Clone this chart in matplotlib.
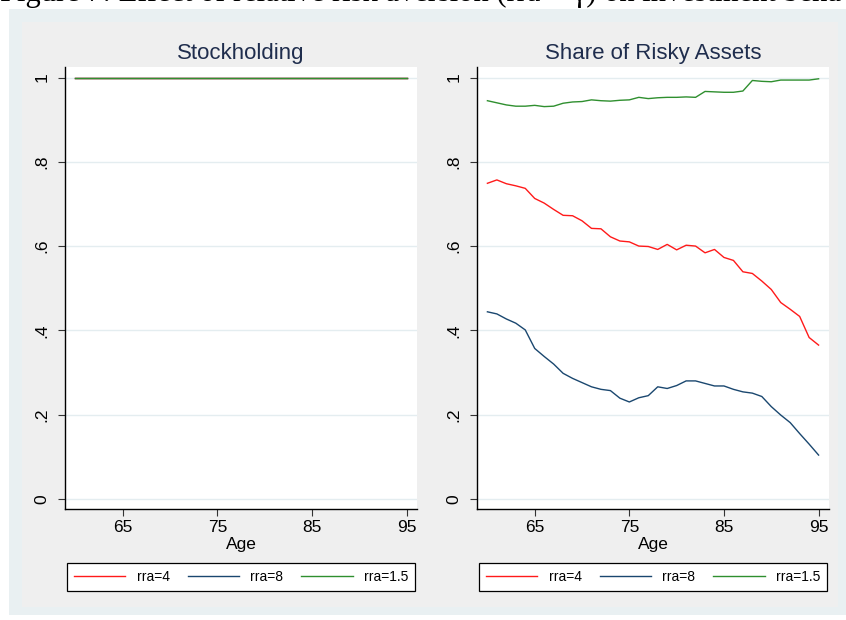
# Effect of relative risk aversion on investment behaviour

import numpy as np
import matplotlib
matplotlib.use('Agg')
import matplotlib.pyplot as plt
from matplotlib.patches import Rectangle

age = list(range(60, 96))

# Stockholding: everyone holds stocks
stock_rra4 = [1.0] * 36
stock_rra8 = [1.0] * 36
stock_rra15 = [1.0] * 36

# Share of risky assets
share_rra4 = [0.749, 0.757, 0.748, 0.743, 0.737, 0.713, 0.702, 0.687, 0.673, 0.672,
              0.660, 0.642, 0.641, 0.622, 0.612, 0.610, 0.600, 0.599, 0.592, 0.604,
              0.591, 0.602, 0.600, 0.584, 0.592, 0.573, 0.566, 0.539, 0.535, 0.517,
              0.497, 0.466, 0.450, 0.433, 0.383, 0.365]
share_rra8 = [0.444, 0.439, 0.427, 0.417, 0.401, 0.357, 0.338, 0.320, 0.298, 0.286,
              0.276, 0.266, 0.260, 0.257, 0.239, 0.230, 0.240, 0.245, 0.266, 0.262,
              0.269, 0.280, 0.280, 0.274, 0.268, 0.268, 0.260, 0.254, 0.251, 0.243,
              0.219, 0.199, 0.181, 0.155, 0.130, 0.104]
share_rra15 = [0.945, 0.940, 0.935, 0.932, 0.932, 0.934, 0.931, 0.932, 0.939, 0.942,
               0.943, 0.947, 0.945, 0.944, 0.946, 0.947, 0.953, 0.950, 0.952, 0.953,
               0.953, 0.954, 0.953, 0.967, 0.966, 0.965, 0.965, 0.968, 0.993, 0.991,
               0.990, 0.994, 0.994, 0.994, 0.994, 0.997]

labels = ['rra=4', 'rra=8', 'rra=1.5']
colors = ['#ff1a1a', '#1a476f', '#2f8f2f']
yticks = [0, 0.2, 0.4, 0.6, 0.8, 1]
ytick_labels = ['0', '.2', '.4', '.6', '.8', '1']
xticks = [65, 75, 85, 95]

plt.rcParams['font.family'] = ['Liberation Sans', 'DejaVu Sans']

W, H = 846, 620
fig = plt.figure(figsize=(W / 100, H / 100), dpi=100)
fig.patch.set_facecolor('white')


def px_rect(x0, y0, x1, y1, color):
  # pixel box (top-left origin) -> figure rectangle
  fig.add_artist(Rectangle((x0 / W, 1 - y1 / H), (x1 - x0) / W, (y1 - y0) / H,
                           transform=fig.transFigure, facecolor=color,
                           edgecolor='none', zorder=-10))


px_rect(9, 9, 846, 615, '#e9f0f2')
px_rect(22, 22, 838, 607, '#efefef')

# caption of the page, only its lower part is inside the picture
fig.text(0, 1 - 1 / H, 'Figure 7: Effect of relative risk aversion (rra = γ) on investment behavior',
         family=['Liberation Serif', 'DejaVu Serif'], fontsize=22, va='baseline', ha='left')

panels = [
    ('Stockholding', [stock_rra4, stock_rra8, stock_rra15], 65),
    ('Share of Risky Assets', [share_rra4, share_rra8, share_rra15], 477),
]

for title, series, left_px in panels:
  ax = fig.add_axes([left_px / W, (H - 509) / H, 352 / W, 442 / H])
  ax.set_facecolor('white')
  # draw navy first on the flat panel so green stays on top
  order = [1, 0, 2]
  for i in order:
    ax.plot(age, series[i], color=colors[i], lw=1.0, label=labels[i], zorder=3)

  ax.set_xlim(58.9, 96.1)
  ax.set_ylim(-0.024, 1.025)
  ax.set_xticks(xticks)
  ax.set_yticks(yticks)
  ax.set_yticklabels(ytick_labels, rotation=90, va='center')
  ax.grid(axis='y', color='#e4edf0', lw=1.0, zorder=0)
  ax.set_axisbelow(True)
  for s in ['top', 'right']:
    ax.spines[s].set_visible(False)
  for s in ['left', 'bottom']:
    ax.spines[s].set_linewidth(1.0)
    ax.spines[s].set_color('black')
  ax.tick_params(axis='both', length=5, width=0.8, color='#333333', labelsize=12.5)
  ax.tick_params(axis='y', pad=6)
  ax.tick_params(axis='x', pad=3)
  ax.set_xlabel('Age', fontsize=12.5, labelpad=1)
  ax.set_title(title, fontsize=16, color='#1f2d4d', pad=6)

  handles, labs = ax.get_legend_handles_labels()
  hmap = dict(zip(labs, handles))
  leg = ax.legend([hmap[l] for l in labels], labels, loc='center',
                  bbox_to_anchor=(0.5, -0.154), ncol=3, fontsize=10,
                  frameon=True, fancybox=False, framealpha=1, edgecolor='black',
                  handlelength=3.7, handletextpad=0.8, columnspacing=1.3,
                  borderpad=0.5, borderaxespad=0)
  leg.get_frame().set_linewidth(0.9)

fig.savefig('out.png', dpi=100)
